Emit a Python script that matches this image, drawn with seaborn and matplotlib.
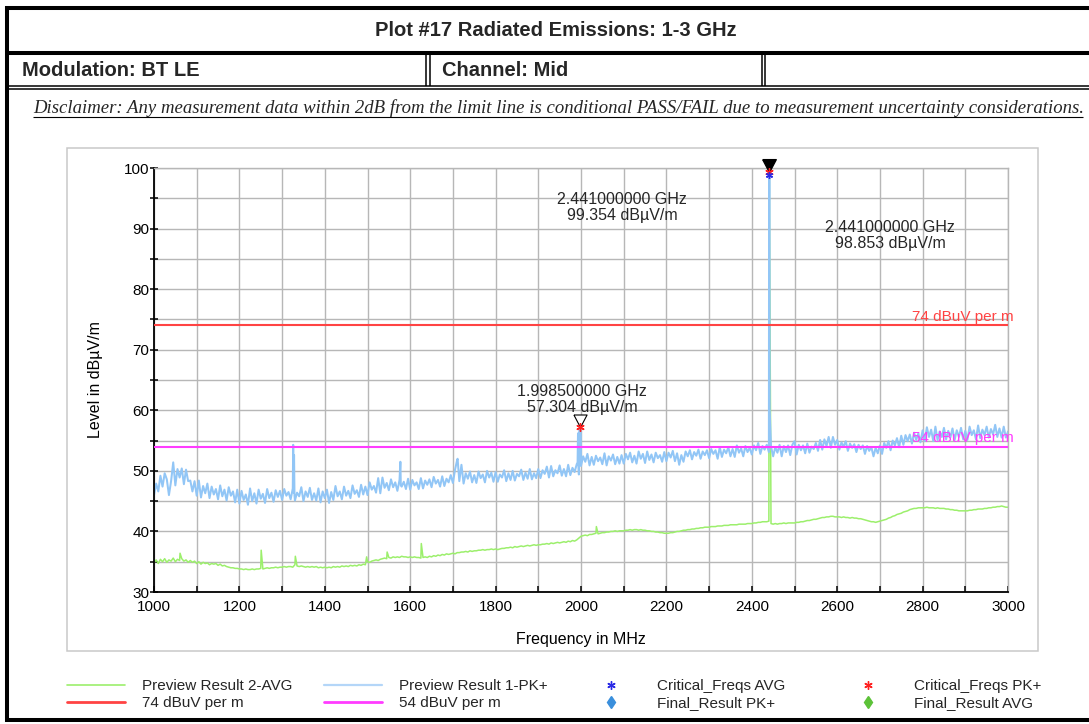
import numpy as np
import pandas as pd
import matplotlib
matplotlib.use("Agg")
import matplotlib.pyplot as plt
from matplotlib.lines import Line2D
from matplotlib.patches import Rectangle
import seaborn as sns

# ---------------- data ----------------
SWEEP_START_MHZ = 1000
SWEEP_STOP_MHZ = 3000
SWEEP_STEP_MHZ = 5

# Preview Result 1-PK+ (dBuV/m), one value per sweep step, 1000..3000 MHz
pk_sweep = [
    46.0, 47.9, 46.6, 49.2, 47.4, 49.6, 48.6, 46.0, 48.3, 51.4, 47.6, 50.3, 48.9, 50.4, 47.8, 50.2, 48.3, 48.4, 46.6, 48.3,
    45.9, 48.4, 45.6, 47.5, 46.3, 47.9, 45.5, 47.4, 46.1, 47.0, 45.3, 47.6, 45.8, 46.9, 45.1, 47.3, 45.9, 46.6, 44.8, 46.9,
    44.6, 46.7, 45.2, 46.1, 44.4, 47.1, 45.0, 46.3, 44.6, 46.9, 45.4, 46.2, 44.7, 47.0, 45.5, 46.4, 44.9, 46.8, 45.7, 46.7,
    45.2, 47.0, 45.9, 46.5, 45.3, 47.1, 45.1, 46.4, 45.8, 47.3, 45.0, 46.6, 45.7, 47.2, 45.2, 46.3, 45.1, 47.1, 44.8, 46.6,
    45.5, 46.9, 44.7, 46.5, 45.2, 47.5, 45.8, 46.6, 45.3, 47.4, 45.9, 46.7, 45.5, 47.6, 46.2, 46.8, 45.7, 47.7, 46.1, 47.4,
    46.0, 48.1, 46.9, 47.5, 46.4, 48.8, 46.3, 48.9, 47.2, 48.0, 46.8, 48.6, 47.3, 48.1, 46.7, 48.5, 47.4, 48.2, 47.0, 48.7,
    46.9, 48.5, 47.6, 48.1, 47.0, 48.8, 47.1, 48.4, 47.7, 48.6, 47.3, 49.0, 47.9, 48.5, 47.4, 49.1, 47.5, 48.7, 48.1, 49.3,
    48.0, 50.2, 51.8, 48.3, 51.0, 47.9, 49.6, 48.7, 49.9, 48.1, 49.3, 48.0, 49.9, 48.8, 49.4, 48.1, 50.0, 48.9, 49.7, 48.2,
    49.8, 48.2, 49.4, 48.9, 50.1, 48.3, 49.6, 48.5, 50.0, 48.4, 49.5, 49.1, 50.2, 48.5, 49.7, 48.7, 50.3, 48.6, 49.6, 48.8,
    50.3, 48.8, 50.1, 49.5, 50.7, 48.9, 50.8, 49.1, 50.1, 49.6, 50.9, 49.2, 50.3, 49.1, 51.0, 49.3, 50.5, 49.8, 51.1, 49.4,
    50.8, 52.4, 51.5, 52.8, 50.9, 52.3, 51.0, 52.5, 51.6, 52.2, 51.1, 52.9, 50.9, 52.4, 51.7, 52.7, 51.1, 52.3, 51.2, 52.6,
    51.2, 52.8, 51.9, 53.0, 51.4, 52.5, 51.2, 53.2, 52.0, 52.8, 51.3, 53.2, 51.8, 52.7, 51.4, 53.0, 52.1, 52.6, 51.5, 53.1,
    51.6, 53.0, 52.2, 53.3, 51.6, 52.9, 51.0, 52.6, 51.5, 53.2, 52.4, 53.4, 51.9, 53.1, 52.5, 53.5, 52.0, 53.2, 52.6, 53.4,
    52.1, 53.6, 52.8, 53.4, 52.0, 53.9, 52.3, 53.5, 52.9, 53.9, 52.4, 53.6, 52.3, 54.2, 53.0, 53.7, 52.4, 54.1, 53.1, 53.8,
    52.7, 54.2, 53.4, 54.6, 52.8, 54.1, 53.5, 54.3, 53.1, 54.0, 52.4, 53.9, 53.0, 54.3, 52.4, 54.1, 53.1, 54.2, 52.6, 54.3,
    54.9, 52.7, 54.3, 53.4, 54.2, 52.9, 54.5, 53.0, 54.0, 53.6, 54.6, 53.3, 55.1, 53.5, 55.2, 54.1, 55.6, 53.8, 55.6, 54.3,
    55.1, 53.5, 54.7, 54.0, 54.9, 53.3, 54.5, 53.8, 54.4, 53.1, 54.3, 53.6, 54.2, 52.8, 54.1, 53.3, 53.9, 52.4, 53.8, 52.9,
    54.2, 52.8, 54.6, 53.8, 54.9, 53.4, 55.0, 54.2, 55.4, 53.9, 55.8, 54.3, 55.9, 54.9, 56.0, 54.5, 56.3, 55.1, 56.2, 54.7,
    56.7, 54.9, 57.2, 55.6, 56.8, 54.9, 57.3, 55.1, 56.5, 55.6, 57.1, 55.2, 56.6, 55.5, 57.0, 55.1, 56.7, 55.6, 57.1, 55.2,
    56.6, 55.1, 57.3, 55.9, 56.7, 55.2, 57.5, 55.4, 56.8, 55.9, 57.3, 55.5, 56.9, 56.0, 57.6, 55.6, 57.0, 55.5, 57.3, 55.5,
    56.5,
]

# Preview Result 2-AVG (dBuV/m), same sweep grid
avg_sweep = [
    34.8, 35.3, 34.7, 35.4, 35.0, 35.5, 34.9, 35.3, 35.1, 35.6, 35.0, 35.4, 35.2, 35.5, 35.1, 35.3, 34.9, 35.2, 34.9, 35.1,
    34.7, 35.0, 34.6, 34.9, 34.7, 34.8, 34.5, 34.7, 34.6, 34.7, 34.4, 34.6, 34.3, 34.4, 34.2, 34.1, 34.0, 34.0, 33.9, 33.9,
    33.8, 33.8, 33.7, 33.8, 33.7, 33.7, 33.8, 33.7, 33.8, 33.8, 33.9, 33.8, 33.9, 34.0, 33.9, 34.0, 34.0, 34.1, 34.0, 34.1,
    34.1, 34.2, 34.1, 34.2, 34.2, 34.1, 34.5, 34.3, 34.2, 34.3, 34.2, 34.1, 34.2, 34.1, 34.2, 34.1, 34.2, 34.0, 34.1, 34.0,
    34.1, 34.0, 34.1, 34.0, 34.2, 34.1, 34.2, 34.1, 34.3, 34.2, 34.3, 34.2, 34.4, 34.3, 34.4, 34.3, 34.5, 34.4, 34.6, 34.5,
    35.0, 34.9, 35.1, 35.2, 35.3, 35.2, 35.4, 35.5, 35.6, 35.5, 35.7, 35.6, 35.8, 35.7, 35.8, 35.7, 35.9, 35.8, 35.8, 35.7,
    35.8, 35.7, 35.8, 35.7, 35.7, 35.6, 35.7, 35.8, 35.7, 35.9, 35.8, 36.0, 35.9, 36.1, 36.0, 36.2, 36.1, 36.3, 36.2, 36.3,
    36.4, 36.3, 36.5, 36.5, 36.6, 36.6, 36.7, 36.6, 36.8, 36.7, 36.8, 36.8, 36.9, 36.9, 37.0, 36.9, 37.0, 37.0, 37.1, 37.0,
    37.1, 37.0, 37.1, 37.2, 37.2, 37.3, 37.3, 37.4, 37.3, 37.5, 37.4, 37.5, 37.6, 37.5, 37.6, 37.7, 37.6, 37.7, 37.8, 37.7,
    37.8, 37.8, 37.9, 37.9, 38.0, 37.9, 38.1, 38.0, 38.1, 38.2, 38.1, 38.2, 38.3, 38.2, 38.4, 38.3, 38.5, 38.4, 38.6, 38.9,
    39.2, 39.3, 39.4, 39.3, 39.5, 39.5, 39.6, 39.7, 39.6, 39.7, 39.8, 39.8, 39.9, 39.9, 40.0, 40.0, 40.1, 40.0, 40.1, 40.1,
    40.1, 40.2, 40.2, 40.3, 40.2, 40.3, 40.3, 40.2, 40.3, 40.2, 40.2, 40.1, 40.1, 40.0, 40.0, 39.9, 39.9, 39.8, 39.8, 39.7,
    39.7, 39.7, 39.8, 39.8, 39.9, 40.0, 40.0, 40.1, 40.2, 40.2, 40.3, 40.3, 40.4, 40.4, 40.5, 40.5, 40.6, 40.6, 40.7, 40.7,
    40.7, 40.8, 40.8, 40.8, 40.9, 40.9, 40.9, 41.0, 41.0, 41.0, 41.1, 41.1, 41.1, 41.1, 41.2, 41.2, 41.2, 41.2, 41.3, 41.3,
    41.3, 41.4, 41.4, 41.5, 41.5, 41.6, 41.6, 41.6, 41.7, 41.3, 41.2, 41.3, 41.2, 41.3, 41.3, 41.4, 41.3, 41.4, 41.4, 41.4,
    41.4, 41.5, 41.5, 41.6, 41.6, 41.7, 41.8, 41.8, 41.9, 42.0, 42.0, 42.1, 42.2, 42.3, 42.3, 42.4, 42.4, 42.5, 42.5, 42.4,
    42.4, 42.4, 42.3, 42.4, 42.3, 42.3, 42.2, 42.3, 42.2, 42.2, 42.1, 42.1, 42.0, 41.9, 41.8, 41.7, 41.6, 41.6, 41.5, 41.6,
    41.7, 41.8, 41.9, 42.0, 42.2, 42.3, 42.5, 42.6, 42.8, 42.9, 43.0, 43.2, 43.3, 43.4, 43.6, 43.7, 43.8, 43.8, 43.9, 43.9,
    43.9, 43.9, 44.0, 43.9, 43.9, 43.9, 43.8, 43.9, 43.8, 43.8, 43.8, 43.7, 43.7, 43.6, 43.6, 43.5, 43.5, 43.4, 43.4, 43.4,
    43.4, 43.4, 43.5, 43.5, 43.6, 43.6, 43.7, 43.7, 43.7, 43.8, 43.8, 43.9, 43.9, 44.0, 44.0, 44.1, 44.1, 44.2, 44.1, 44.0,
    44.0,
]

# narrow emissions that fall between sweep steps
pk_spike_freqs = [1326, 1327, 1328, 1329, 1577, 1578, 1711, 1992, 1993, 1994, 1996, 1998.5, 1999.5,
                  2440.5, 2441, 2441.5, 2442]
pk_spike_levels = [54.3, 46.4, 52.6, 46.0, 51.5, 47.6, 52.0, 51.4, 56.2, 51.0, 56.8, 57.304, 55.9,
                   95.0, 99.354, 96.0, 60.0]
avg_spike_freqs = [1061, 1251, 1331, 1498, 1546, 1626, 2036, 2440.5, 2441, 2441.5]
avg_spike_levels = [36.4, 36.9, 35.9, 35.8, 36.6, 38.0, 40.8, 90.0, 98.853, 92.0]

limit_pk = 74   # dBuV per m
limit_avg = 54  # dBuV per m

# markers (MHz, dBuV/m)
peak_marker = (2441.0, 99.354)
spur_marker = (1998.5, 57.304)
final_marker = (2441.0, 98.853)

x_ticks = [1000, 1200, 1400, 1600, 1800, 2000, 2200, 2400, 2600, 2800, 3000]
y_ticks = [30, 40, 50, 60, 70, 80, 90, 100]

title = "Plot #17 Radiated Emissions: 1-3 GHz"
modulation = "Modulation: BT LE"
channel = "Channel: Mid"
disclaimer = ("Disclaimer: Any measurement data within 2dB from the limit line is conditional "
              "PASS/FAIL due to measurement uncertainty considerations.")

# ---------------- styling ----------------
GREEN = "#9cef6c"
BLUE = "#92c6f6"
RED = "#ff4343"
MAGENTA = "#ff3cff"
GRID = "#b7b7b7"

sns.set_theme(style="white")
plt.rcParams["font.family"] = ["Liberation Sans", "DejaVu Sans"]
plt.rcParams["axes.unicode_minus"] = False

W, H = 1089, 724
fig = plt.figure(figsize=(W / 100, H / 100), dpi=100)
fig.patch.set_facecolor("white")


def fx(px):
    return px / W


def fy(py):
    return 1 - py / H


def trace(levels, spike_f, spike_l):
    grid = np.arange(SWEEP_START_MHZ, SWEEP_STOP_MHZ + 1, SWEEP_STEP_MHZ)
    df = pd.DataFrame({"freq": np.concatenate([grid, spike_f]),
                       "level": np.concatenate([levels, spike_l])})
    return df.sort_values("freq", kind="mergesort").reset_index(drop=True)


pk_df = trace(pk_sweep, pk_spike_freqs, pk_spike_levels)
avg_df = trace(avg_sweep, avg_spike_freqs, avg_spike_levels)

ax = fig.add_axes([fx(154), fy(592), fx(1008) - fx(154), fy(168) - fy(592)])
ax.set_facecolor("white")

sns.lineplot(data=avg_df, x="freq", y="level", ax=ax, color=GREEN, linewidth=1.1,
             estimator=None, sort=False, zorder=2)
sns.lineplot(data=pk_df, x="freq", y="level", ax=ax, color=BLUE, linewidth=1.45,
             estimator=None, sort=False, zorder=2.1)

ax.axhline(limit_pk, color=RED, linewidth=1.5, zorder=3)
ax.axhline(limit_avg, color=MAGENTA, linewidth=1.5, zorder=3)

# limit line captions
ax.text(3014, limit_pk + 0.3, "74 dBuV per m", color=RED, ha="right", va="bottom",
        fontsize=11, clip_on=False, zorder=4)
ax.text(3014, limit_avg + 0.3, "54 dBuV per m", color=MAGENTA, ha="right", va="bottom",
        fontsize=11, clip_on=False, zorder=4)

# marker triangles sit with their tip on the marked level
tri = [(-1.0, 1.9), (1.0, 1.9), (0.0, 0.0), (-1.0, 1.9)]
ax.plot([peak_marker[0]], [peak_marker[1]], marker=tri, markersize=18.5, color="black",
        markerfacecolor="black", linestyle="none", clip_on=False, zorder=6)
ax.plot([spur_marker[0]], [spur_marker[1]], marker=tri, markersize=18, color="black",
        markerfacecolor="white", markeredgewidth=0.8, linestyle="none", clip_on=False, zorder=6)
asterisk = (6, 2, 0)
ax.plot([spur_marker[0], peak_marker[0]], [spur_marker[1], peak_marker[1]], marker=asterisk,
        markersize=6, color="#ff2020", markeredgewidth=1.0, linestyle="none", clip_on=False, zorder=7)
ax.plot([final_marker[0]], [final_marker[1]], marker=asterisk, markersize=5, color="#2a2ae6",
        markeredgewidth=1.0, linestyle="none", clip_on=False, zorder=7)

# marker readouts
ax.text(2096, 93.5, f"{peak_marker[0] / 1000:.9f} GHz\n{peak_marker[1]:.3f} dBµV/m",
        ha="center", va="center", fontsize=11.5, linespacing=1.1, zorder=5)
ax.text(2724, 88.8, f"{final_marker[0] / 1000:.9f} GHz\n{final_marker[1]:.3f} dBµV/m",
        ha="center", va="center", fontsize=11.5, linespacing=1.1, zorder=5)
ax.text(2002, 61.8, f"{spur_marker[0] / 1000:.9f} GHz\n{spur_marker[1]:.3f} dBµV/m",
        ha="center", va="center", fontsize=11.5, linespacing=1.1, zorder=5)

ax.set_xlim(SWEEP_START_MHZ, SWEEP_STOP_MHZ)
ax.set_ylim(30, 100)
ax.set_xticks(x_ticks)
ax.set_xticks(np.arange(1100, 3000, 200), minor=True)
ax.set_yticks(y_ticks)
ax.set_yticks(np.arange(35, 100, 10), minor=True)
ax.set_xticklabels([str(v) for v in x_ticks])
ax.set_yticklabels([str(v) for v in y_ticks])
ax.grid(True, which="both", color=GRID, linewidth=1.0, zorder=0)
ax.set_axisbelow(True)
ax.tick_params(axis="y", which="both", direction="inout", length=6, width=1.1, color="black",
               pad=0.5, labelsize=11, left=True, right=False, labelcolor="black")
ax.tick_params(axis="x", which="both", direction="in", length=4, width=1.1, color="black",
               pad=6, labelsize=11, bottom=True, top=False, labelcolor="black")
for side in ("left", "bottom"):
    ax.spines[side].set_color("black")
    ax.spines[side].set_linewidth(1.3)
for side in ("top", "right"):
    ax.spines[side].set_color(GRID)
    ax.spines[side].set_linewidth(1.0)

ax.set_xlabel("Frequency in MHz", fontsize=11.5, color="black")
ax.set_ylabel("Level in dBµV/m", fontsize=11.5, color="black")
ax.xaxis.set_label_coords(0.5, -0.113)
ax.xaxis.label.set_va("center")
ax.yaxis.set_label_coords(-0.069, 0.5)
ax.yaxis.label.set_va("center")

# grey panel around the chart
fig.add_artist(Rectangle((fx(67), fy(651)), fx(1038) - fx(67), fy(148) - fy(651),
                         transform=fig.transFigure, fill=False, edgecolor="#c9c9c9",
                         linewidth=1.1, zorder=1))

# ---------------- report frame ----------------
def hline(py, x0, x1, lw):
    fig.add_artist(Line2D([fx(x0), fx(x1)], [fy(py), fy(py)], transform=fig.transFigure,
                          color="black", linewidth=lw, solid_capstyle="butt"))


def vline(px, y0, y1, lw):
    fig.add_artist(Line2D([fx(px), fx(px)], [fy(y0), fy(y1)], transform=fig.transFigure,
                          color="black", linewidth=lw, solid_capstyle="butt"))


vline(7, 6, 722, 2.9)
hline(8, 5, W, 2.9)
hline(720, 5, W, 2.9)
hline(53, 5, W, 2.9)
hline(86, 5, W, 1.1)
hline(89, 5, W, 1.1)
for px in (426, 429.5, 761.5, 765):
    vline(px, 55, 86, 1.1)

fig.text(fx(556), fy(31), title, ha="center", va="center", fontsize=14.5, weight="bold")
fig.text(fx(22), fy(70), modulation, ha="left", va="center", fontsize=14.5, weight="bold")
fig.text(fx(442), fy(70), channel, ha="left", va="center", fontsize=14.5, weight="bold")

renderer = fig.canvas.get_renderer()
disc = fig.text(fx(33), fy(108), disclaimer, ha="left", va="center", fontsize=10,
                family="Liberation Serif", style="italic")
w = disc.get_window_extent(renderer).width
disc.set_fontsize(10 * (1083 - 33) / w)
hline(117, 33, 1083, 0.8)

# ---------------- legend ----------------
legend_cols = [
    ([Line2D([], [], color=GREEN, linewidth=1.2), Line2D([], [], color=RED, linewidth=2.0)],
     ["Preview Result 2-AVG", "74 dBuV per m"]),
    ([Line2D([], [], color="#b4d6f8", linewidth=1.6), Line2D([], [], color=MAGENTA, linewidth=2.0)],
     ["Preview Result 1-PK+", "54 dBuV per m"]),
    ([Line2D([], [], color="#2a2ae6", marker=asterisk, markersize=6, linestyle="none"),
      Line2D([], [], color="#3a8fdc", marker="d", markersize=6, linestyle="none")],
     ["Critical_Freqs AVG", "Final_Result PK+"]),
    ([Line2D([], [], color="#ff2020", marker=asterisk, markersize=6, linestyle="none"),
      Line2D([], [], color="#5cc238", marker="d", markersize=6, linestyle="none")],
     ["Critical_Freqs PK+", "Final_Result AVG"]),
]
for x0, (handles, labels) in zip([67, 324, 582, 839], legend_cols):
    leg = fig.legend(handles, labels, loc="upper left", bbox_to_anchor=(fx(x0), fy(679)),
                     bbox_transform=fig.transFigure, frameon=False, fontsize=11,
                     handlelength=3.8, handletextpad=1.1, borderpad=0, borderaxespad=0,
                     labelspacing=0.22)

fig.savefig("out.png", dpi=100, facecolor="white")
